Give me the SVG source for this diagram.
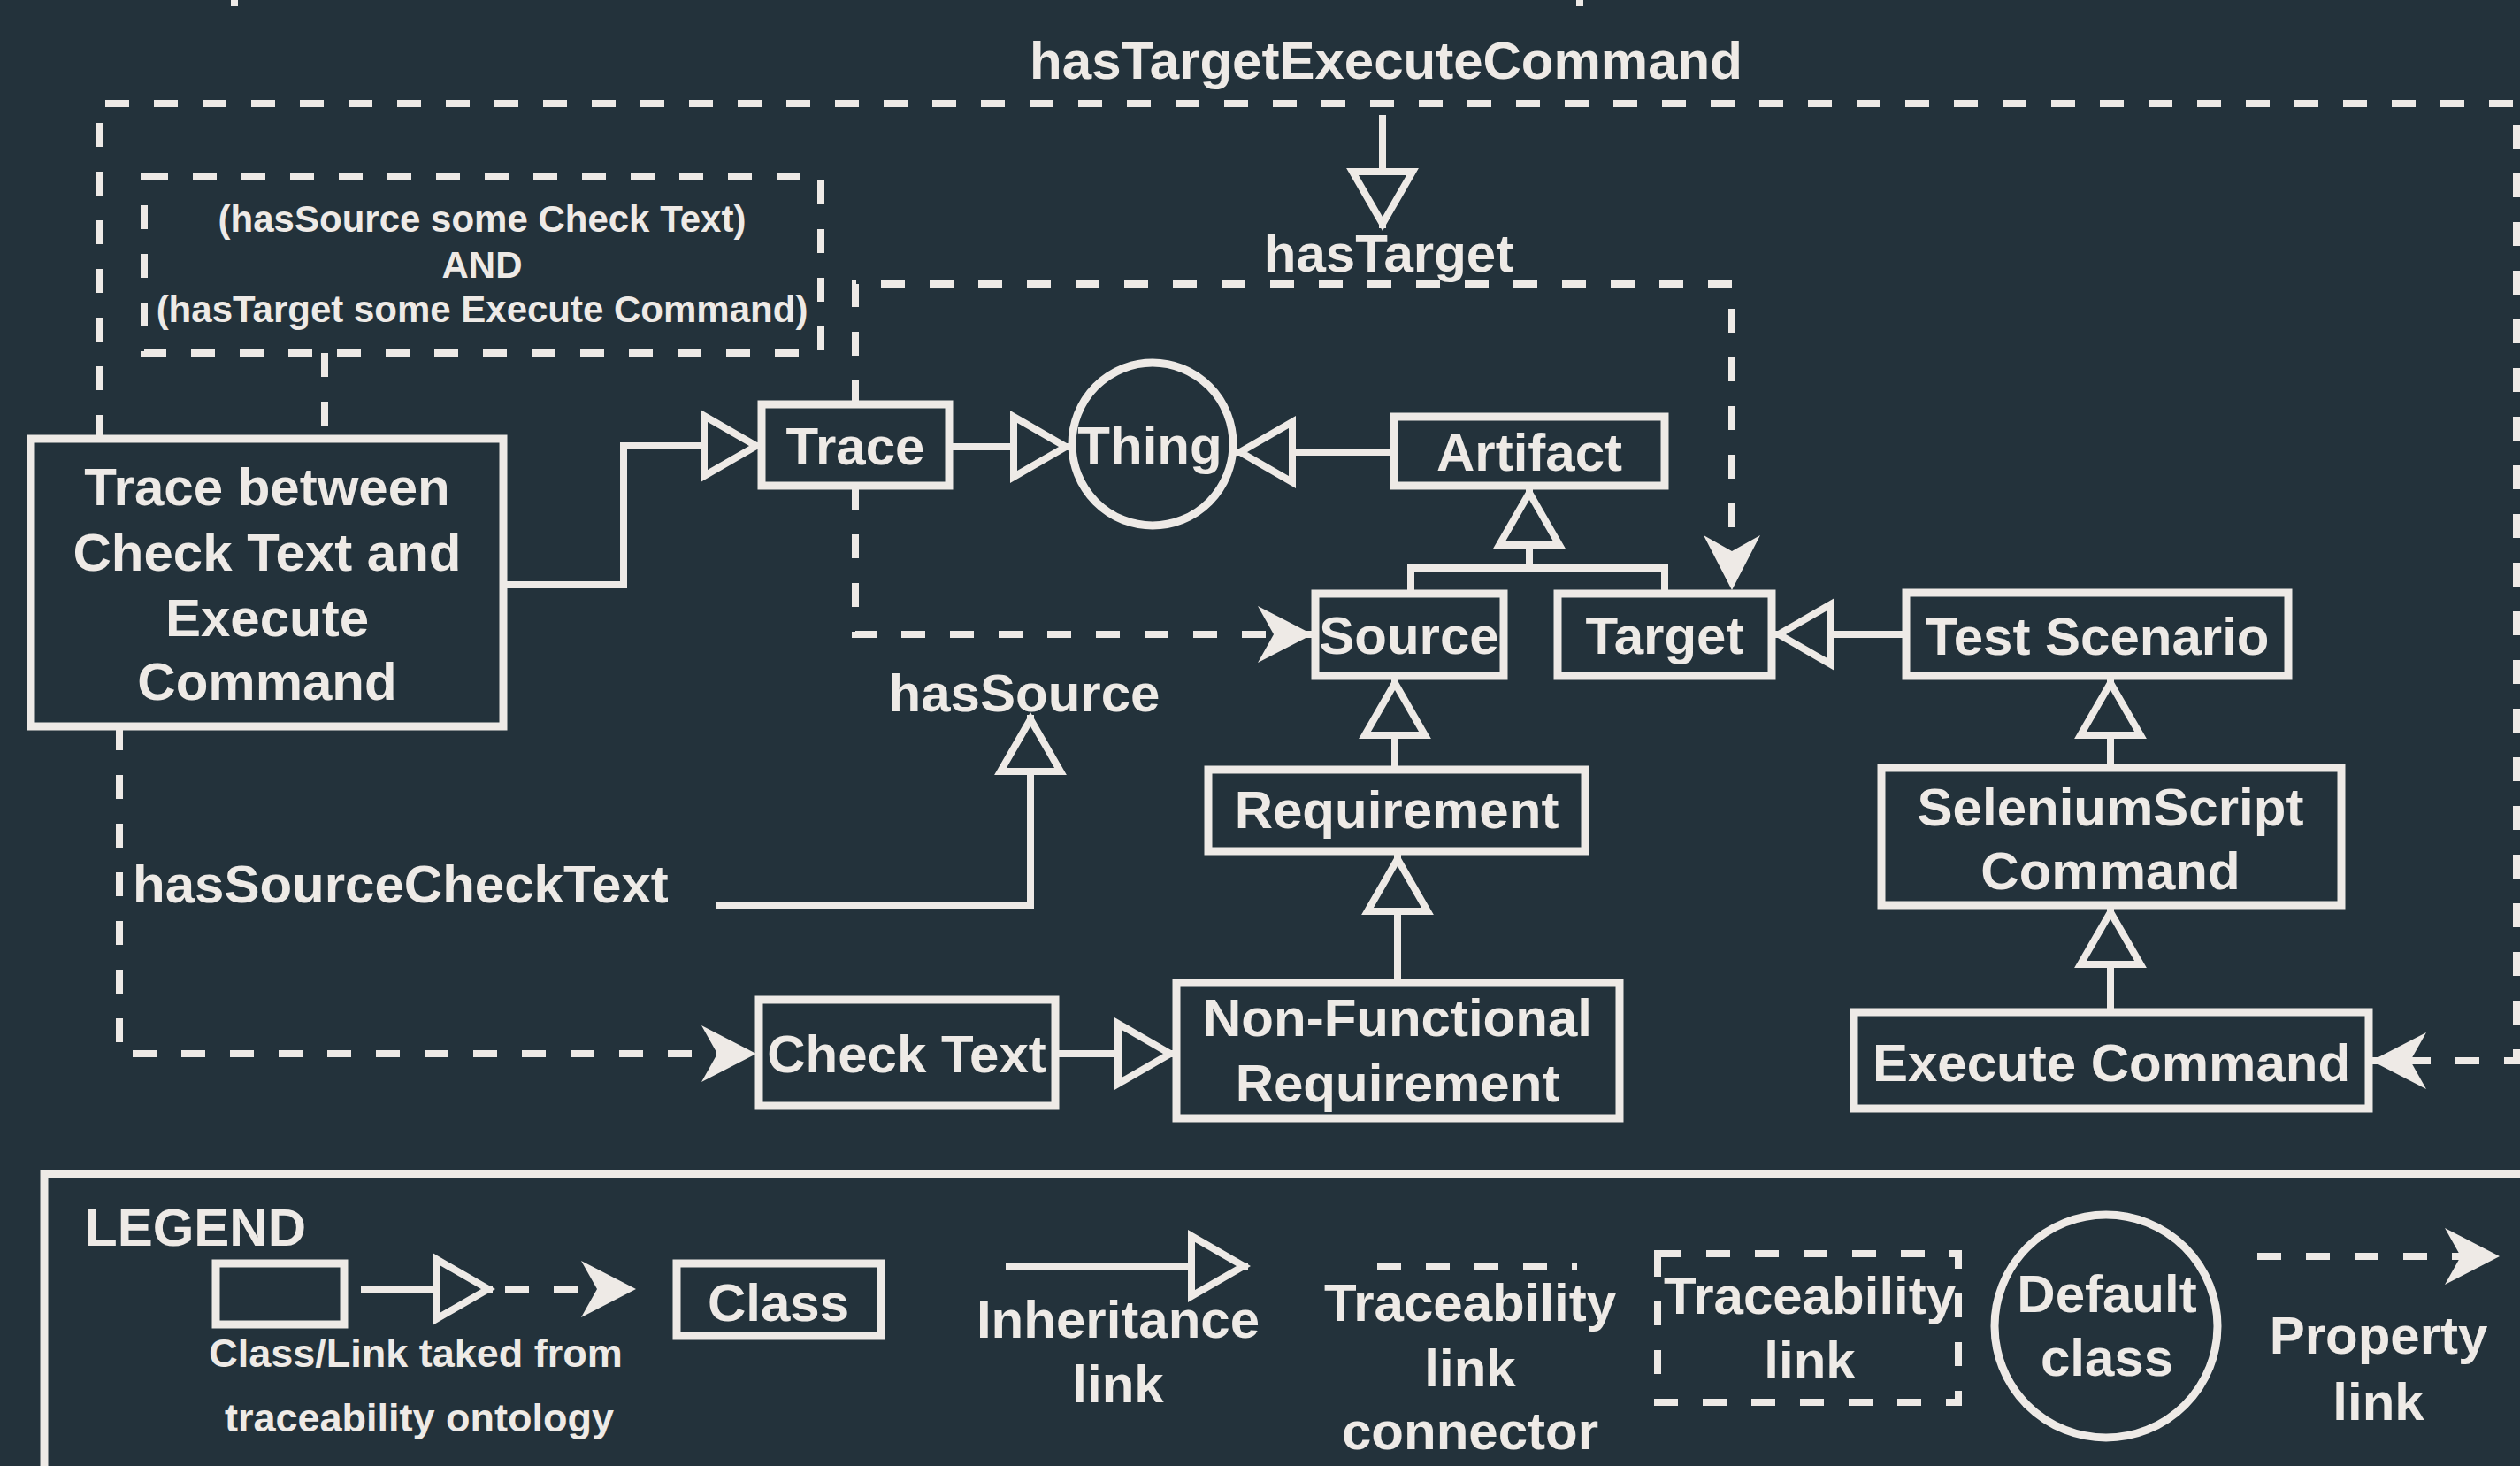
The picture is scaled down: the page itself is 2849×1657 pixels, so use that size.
<svg xmlns="http://www.w3.org/2000/svg" width="2849" height="1657" viewBox="0 0 2849 1657">
<style>
.bg{fill:#23323b}
.box{fill:none;stroke:#eeeae6;stroke-width:9}
.ln{fill:none;stroke:#eeeae6;stroke-width:8}
.dash{fill:none;stroke:#eeeae6;stroke-width:8;stroke-dasharray:27 28}
.t{font-family:"Liberation Sans",Arial,sans-serif;font-weight:bold;fill:#eeeae6;text-anchor:middle;font-size:60px}
.ts{font-size:42px}
.tl{font-size:45px}
.st{text-anchor:start}
</style>
<defs>
<marker id="inh" markerUnits="userSpaceOnUse" markerWidth="90" markerHeight="90" viewBox="-80 -45 90 90" refX="0" refY="0" orient="auto">
<path d="M-64,-34 L-5,0 L-64,34 Z" fill="#23323b" stroke="#eeeae6" stroke-width="8"/>
</marker>
<marker id="prop" markerUnits="userSpaceOnUse" markerWidth="90" markerHeight="90" viewBox="-80 -45 90 90" refX="0" refY="0" orient="auto">
<path d="M0,0 L-62,-32 L-44,0 L-62,32 Z" fill="#eeeae6"/>
</marker>
</defs>
<rect class="bg" x="0" y="0" width="2849" height="1657"/>
<line class="ln" x1="265" y1="0" x2="265" y2="7"/>
<line class="ln" x1="1786" y1="0" x2="1786" y2="7"/>

<g id="connectors">
<path class="dash" d="M113,496 L113,117 L2845,117 L2845,1199 L2681,1199" marker-end="url(#prop)"/>
<path class="dash" d="M367,399 L367,496"/>
<path class="dash" d="M967,549 L967,717 L1484,717" marker-end="url(#prop)"/>
<path class="dash" d="M967,457 L967,321 L1958,321 L1958,667" marker-end="url(#prop)"/>
<path class="dash" d="M135,821 L135,1191 L855,1191" marker-end="url(#prop)"/>
<path class="ln" d="M569,661 L705,661 L705,504 L860,504" marker-end="url(#inh)"/>
<path class="ln" d="M1073,505 L1210,505" marker-end="url(#inh)"/>
<path class="ln" d="M1576,511 L1397,511" marker-end="url(#inh)"/>
<path class="ln" d="M1595,671 L1595,642 L1882,642 L1882,671"/>
<path class="ln" d="M1729,642 L1729,552" marker-end="url(#inh)"/>
<path class="ln" d="M1577,870 L1577,767" marker-end="url(#inh)"/>
<path class="ln" d="M1580,1111 L1580,966" marker-end="url(#inh)"/>
<path class="ln" d="M1193,1191 L1328,1191" marker-end="url(#inh)"/>
<path class="ln" d="M810,1023 L1165,1023 L1165,808" marker-end="url(#inh)"/>
<path class="ln" d="M1563,130 L1563,258" marker-end="url(#inh)"/>
<path class="ln" d="M2155,717 L2006,717" marker-end="url(#inh)"/>
<path class="ln" d="M2386,868 L2386,767" marker-end="url(#inh)"/>
<path class="ln" d="M2386,1144 L2386,1026" marker-end="url(#inh)"/>
</g>

<g id="condition">
<rect class="dash" x="163" y="199" width="765" height="200"/>
<text class="t ts" x="545" y="262">(hasSource some Check Text)</text>
<text class="t ts" x="545" y="314">AND</text>
<text class="t ts" x="545" y="364">(hasTarget some Execute Command)</text>
</g>
<g id="label-hasTargetExecuteCommand"><text class="t" x="1567" y="89">hasTargetExecuteCommand</text></g>
<g id="label-hasTarget"><text class="t" x="1570" y="307">hasTarget</text></g>
<g id="label-hasSource"><text class="t" x="1158" y="804">hasSource</text></g>
<g id="label-hasSourceCheckText"><text class="t st" x="150" y="1020">hasSourceCheckText</text></g>

<g id="trace-between">
<rect class="box" x="35" y="496" width="534" height="325"/>
<text class="t" x="302" y="571">Trace between</text>
<text class="t" x="302" y="645">Check Text and</text>
<text class="t" x="302" y="719">Execute</text>
<text class="t" x="302" y="791">Command</text>
</g>
<g id="trace">
<rect class="box" x="861" y="457" width="212" height="92"/>
<text class="t" x="967" y="525">Trace</text>
</g>
<g id="thing">
<ellipse class="box" cx="1303" cy="502" rx="91" ry="92"/>
<text class="t" x="1300" y="524">Thing</text>
</g>
<g id="artifact">
<rect class="box" x="1576" y="471" width="306" height="78"/>
<text class="t" x="1729" y="532">Artifact</text>
</g>
<g id="source">
<rect class="box" x="1487" y="671" width="213" height="93"/>
<text class="t" x="1593" y="739">Source</text>
</g>
<g id="target">
<rect class="box" x="1761" y="671" width="242" height="93"/>
<text class="t" x="1882" y="739">Target</text>
</g>
<g id="test-scenario">
<rect class="box" x="2155" y="670" width="432" height="94"/>
<text class="t" x="2371" y="740">Test Scenario</text>
</g>
<g id="requirement">
<rect class="box" x="1366" y="870" width="426" height="92"/>
<text class="t" x="1579" y="936">Requirement</text>
</g>
<g id="selenium">
<rect class="box" x="2127" y="868" width="520" height="155"/>
<text class="t" x="2386" y="933">SeleniumScript</text>
<text class="t" x="2386" y="1005">Command</text>
</g>
<g id="check-text">
<rect class="box" x="858" y="1130" width="335" height="120"/>
<text class="t" x="1025" y="1212">Check Text</text>
</g>
<g id="nfr">
<rect class="box" x="1330" y="1111" width="501" height="153"/>
<text class="t" x="1580" y="1171">Non-Functional</text>
<text class="t" x="1580" y="1245">Requirement</text>
</g>
<g id="execute-command">
<rect class="box" x="2096" y="1144" width="582" height="109"/>
<text class="t" x="2387" y="1222">Execute Command</text>
</g>

<g id="legend">
<path class="box" d="M50,1670 L50,1327 L2860,1327"/>
<text class="t st" x="96" y="1408">LEGEND</text>
<rect class="box" x="244" y="1428" width="145" height="69"/>
<line class="ln" x1="408" y1="1457" x2="557" y2="1457" marker-end="url(#inh)"/>
<line class="dash" x1="571" y1="1457" x2="719" y2="1457" stroke-dasharray="20 37" marker-end="url(#prop)"/>
<text class="t tl" x="470" y="1545">Class/Link taked from</text>
<text class="t tl" x="474" y="1618">traceability ontology</text>
<rect class="box" x="765" y="1428" width="231" height="82"/>
<text class="t" x="880" y="1493">Class</text>
<line class="ln" x1="1137" y1="1431" x2="1411" y2="1431" marker-end="url(#inh)"/>
<text class="t" x="1264" y="1512">Inheritance</text>
<text class="t" x="1264" y="1585">link</text>
<line class="dash" x1="1557" y1="1431" x2="1783" y2="1431"/>
<text class="t" x="1662" y="1493">Traceability</text>
<text class="t" x="1662" y="1567">link</text>
<text class="t" x="1662" y="1638">connector</text>
<rect class="dash" x="1874" y="1417" width="340" height="168"/>
<text class="t" x="2046" y="1485">Traceability</text>
<text class="t" x="2046" y="1558">link</text>
<ellipse class="box" cx="2381" cy="1499" rx="126" ry="126"/>
<text class="t" x="2382" y="1483">Default</text>
<text class="t" x="2382" y="1555">class</text>
<line class="dash" x1="2552" y1="1420" x2="2826" y2="1420" marker-end="url(#prop)"/>
<text class="t" x="2689" y="1530">Property</text>
<text class="t" x="2689" y="1605">link</text>
</g>
</svg>
